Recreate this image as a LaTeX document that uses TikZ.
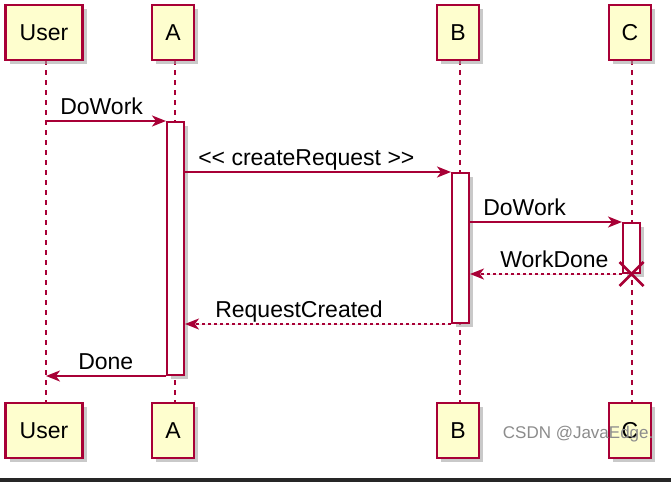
\documentclass[tikz,border=0pt]{standalone}
\usepackage{fontspec}
\setmainfont{Liberation Sans}
\usepackage{xcolor}
\usetikzlibrary{arrows.meta}
\usetikzlibrary{positioning}
\usetikzlibrary{shadows}
\definecolor{umlred}{HTML}{A80036}
\definecolor{umlfill}{HTML}{FEFECE}

\begin{document}
\begin{tikzpicture}[x=1pt, y=-1pt, >={Stealth[length=14pt,width=11pt,inset=4pt]}, semithick]
\tikzstyle{party} = [draw=umlred, fill=umlfill, line width=2.2pt, minimum height=55pt, inner xsep=13pt,
  font=\fontsize{23}{27}\selectfont, drop shadow={shadow xshift=4pt, shadow yshift=-4pt, fill=black!35, opacity=0.6}]
\tikzstyle{bar} = [draw=umlred, fill=white, line width=2pt, minimum width=17pt, inner sep=0pt,
  drop shadow={shadow xshift=4pt, shadow yshift=-4pt, fill=black!35, opacity=0.6}]
\tikzstyle{life} = [draw=umlred, line width=1.3pt, dash pattern=on 5pt off 5pt]
\tikzstyle{msg} = [draw=umlred, fill=umlred, line width=1.8pt]
\tikzstyle{reply} = [msg, dash pattern=on 3pt off 3pt]
\tikzstyle{lbl} = [anchor=base west, inner sep=0pt, font=\fontsize{23}{27}\selectfont]

\fill[white] (0,0) rectangle (671,482);
\useasboundingbox (0,0) rectangle (671,482);
\fill[black!85] (0,478) rectangle (671,482);

% lifelines
\path[life] (46,60) -- (46,403);
\path[life] (175,60) -- (175,403);
\path[life] (460,60) -- (460,403);
\path[life] (632,60) -- (632,403);

\node[party, minimum width=77pt] (U) at (44,32.5) {User};
\node[party] (A) at (173,32.5) {A};
\node[party] (B) at (458,32.5) {B};
\node[party] (C) at (630,32.5) {C};
\node[party, minimum width=77pt] (U2) at (44,430.5) {User};
\node[party] (A2) at (173,430.5) {A};
\node[party] (B2) at (458,430.5) {B};
\node[party] (C2) at (630,430.5) {C};

% activations
\node[bar, minimum height=253pt] (actA) at (175.5,248.5) {};
\node[bar, minimum height=150pt] (actB) at (460.5,248) {};
\node[bar, minimum height=50pt] (actC) at (631.5,248) {};

\coordinate (uLine) at (46,60);

\path[msg, ->] (actA.north west -| uLine) -- (actA.north west);
\node[lbl] at ([xshift=14pt, yshift=7pt]actA.north west -| uLine) {DoWork};

\path[msg, ->] (actB.north west -| actA.east) -- (actB.north west);
\node[lbl] at ([xshift=13pt, yshift=7pt]actB.north west -| actA.east) {{<}{<} createRequest {>}{>}};

\path[msg, ->] (actC.north west -| actB.east) -- (actC.north west);
\node[lbl] at ([xshift=13pt, yshift=7pt]actC.north west -| actB.east) {DoWork};

\path[reply, ->] (actC.south west) -- (actC.south west -| actB.east);
\node[lbl] at ([xshift=30pt, yshift=7pt]actC.south west -| actB.east) {WorkDone};
\draw[umlred, line width=2.8pt] ([xshift=-12pt, yshift=12pt]actC.south) -- ([xshift=12pt, yshift=-12pt]actC.south)
  ([xshift=-12pt, yshift=-12pt]actC.south) -- ([xshift=12pt, yshift=12pt]actC.south);

\path[reply, ->] (actB.south west) -- (actB.south west -| actA.east);
\node[lbl] at ([xshift=30pt, yshift=7pt]actB.south west -| actA.east) {RequestCreated};

\path[msg, ->] (actA.south west) -- (actA.south west -| uLine);
\node[lbl] at ([xshift=32pt, yshift=7pt]actA.south west -| uLine) {Done};

\node[text=black!45, anchor=east, font=\fontsize{17}{20}\selectfont] (mark) at (657,434) {CSDN @JavaEdge.};
\end{tikzpicture}
\end{document}
